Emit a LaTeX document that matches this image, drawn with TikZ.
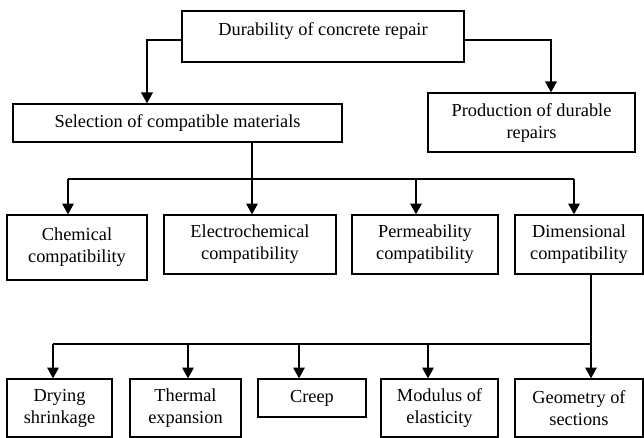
\documentclass[tikz,border=0pt]{standalone}
\usepackage{fontspec}
\setmainfont{Liberation Serif}
\usetikzlibrary{arrows.meta}
\usetikzlibrary{calc}
\newcommand{\pu}{0.6pt}

\begin{document}
\begin{tikzpicture}[x=0.6pt,y=-0.6pt,
	font=\fontsize{11}{13.2}\selectfont,
	box/.style={draw,line width=0.8pt,align=center,inner sep=0pt},
	arr/.style={line width=0.8pt,-{Triangle[width=7pt,length=6.5pt]}},
	link/.style={line width=0.8pt}]
	\useasboundingbox (0,0) rectangle (644,438);

	% top levels
	\node[box,minimum width=282*\pu,minimum height=51*\pu,text depth=9pt] (durab) at (323,36.5) {Durability of concrete repair};
	\node[box,minimum width=329*\pu,minimum height=38*\pu] (select) at (177.5,123) {Selection of compatible materials};
	\node[box,minimum width=207*\pu,minimum height=59*\pu] (prod) at (531.5,122.5) {Production of durable\\repairs};

	% compatibility
	\node[box,minimum width=140*\pu,minimum height=65*\pu] (chem) at (77,247.5) {Chemical\\compatibility};
	\node[box,minimum width=172*\pu,minimum height=59*\pu] (elec) at (250,244.5) {Electrochemical\\compatibility};
	\node[box,minimum width=146*\pu,minimum height=59*\pu] (perm) at (425,244.5) {Permeability\\compatibility};
	\node[box,minimum width=128*\pu,minimum height=59*\pu] (dim) at (579,244.5) {Dimensional\\compatibility};

	% dimensional
	\node[box,minimum width=105*\pu,minimum height=58*\pu] (dry) at (59.5,408) {Drying\\shrinkage};
	\node[box,minimum width=111*\pu,minimum height=58*\pu] (therm) at (185.5,408) {Thermal\\expansion};
	\node[box,minimum width=108*\pu,minimum height=38*\pu] (creep) at (312,398) {Creep};
	\node[box,minimum width=117*\pu,minimum height=58*\pu] (modul) at (439.5,408) {Modulus of\\elasticity};
	\node[box,minimum width=128*\pu,minimum height=58*\pu] (geom) at (579,408) {Geometry of\\sections};

	\coordinate (tl) at (147,40);
	\coordinate (tr) at (551,40);
	\draw[arr] (tl -| durab.west) -| (tl |- select.north);
	\draw[arr] (tr -| durab.east) -| (tr |- prod.north);

	\coordinate (busa) at (252,179);
	\coordinate (busal) at (68,179);
	\coordinate (busar) at (574,179);
	\draw[link] (busa |- select.south) -- (busa);
	\draw[link] (busal) -- (busar);
	\foreach \n/\x in {chem/68,elec/252,perm/416,dim/574}
		\draw[arr] (\x,179) -- (\x,179 |- \n.north);

	\coordinate (busb) at (591,344);
	\coordinate (busbl) at (53,344);
	\draw[link] (busb |- dim.south) -- (busb);
	\draw[link] (busbl) -- (busb);
	\foreach \n/\x in {dry/53,therm/188,creep/299,modul/428,geom/591}
		\draw[arr] (\x,344) -- (\x,344 |- \n.north);
\end{tikzpicture}
\end{document}
